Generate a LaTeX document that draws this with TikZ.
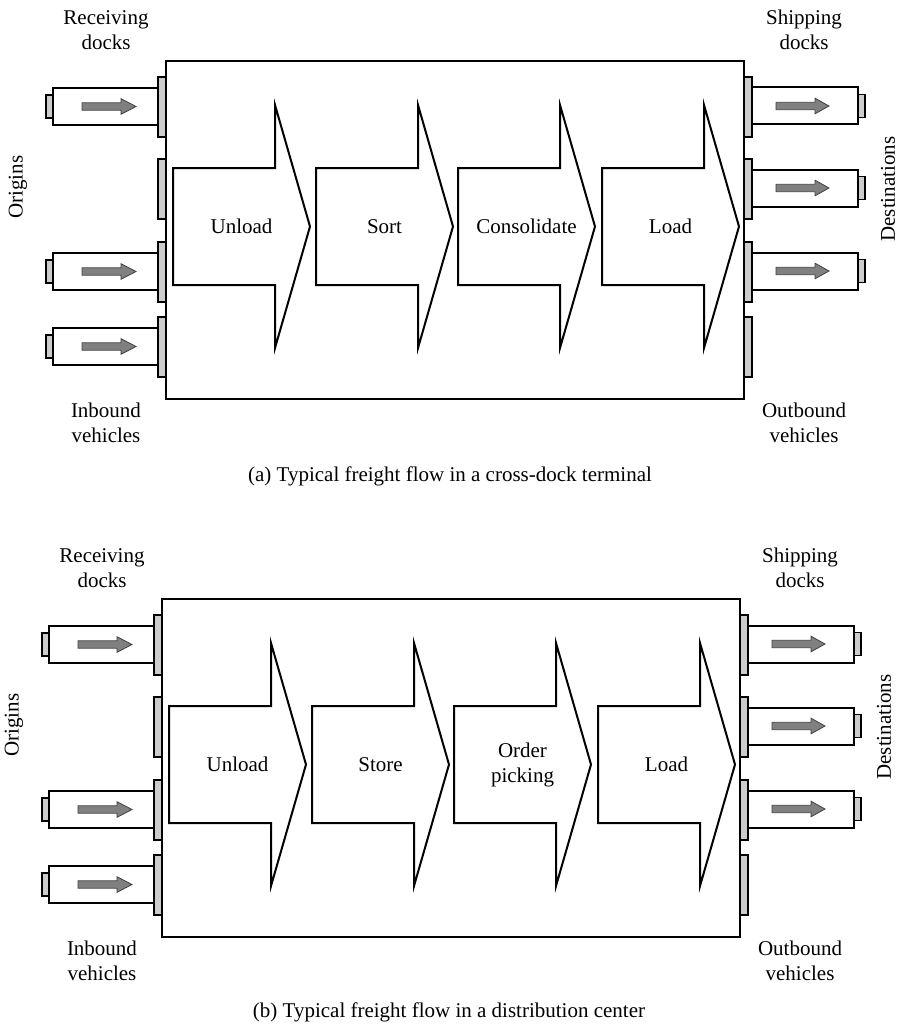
\documentclass[tikz,border=0pt]{standalone}
\usepackage{fontspec}
\setmainfont{Liberation Serif}
\definecolor{plategray}{HTML}{CCCCCC}
\definecolor{arrowgray}{HTML}{808080}
\definecolor{arrowedge}{HTML}{404040}
\newcommand\ldock[1]{\path[plate] (158,#1) rectangle (166,#1+60);}
\newcommand\rdock[1]{\path[plate] (744,#1) rectangle (752,#1+60);}
\newcommand\ltruck[1]{%
  \path[truckbody] (53,#1+11) rectangle (158,#1+48);
  \path[plate] (46,#1+18) rectangle (53,#1+41);
  \path[truckarrow] (82,#1+25.8) -- (121,#1+25.8) -- (121,#1+21.7) -- (136,#1+29.5)
     -- (121,#1+37.3) -- (121,#1+33.2) -- (82,#1+33.2) -- cycle;}
\newcommand\rtruck[1]{%
  \path[truckbody] (752,#1+10.5) rectangle (858,#1+47.5);
  \path[plate] (858,#1+17.5) rectangle (865,#1+40.5);
  \path[truckarrow] (776,#1+25.3) -- (815,#1+25.3) -- (815,#1+21.2) -- (829,#1+29)
     -- (815,#1+36.8) -- (815,#1+32.7) -- (776,#1+32.7) -- cycle;}
\newcommand\flowstep[3]{% name, left x, label
  \path[flowarrow] (#2,168) -- (#2+102,168) -- (#2+102,105) -- (#2+137,226.5)
     -- (#2+102,348) -- (#2+102,285) -- (#2,285) -- cycle;
  \node[lbl] (#1) at (#2+68.5,226.5) {#3};}
\newcommand\drawpanel[6]{% prefix, four step labels, unused
  \ldock{77}\ldock{159}\ldock{242}\ldock{317}
  \rdock{77}\rdock{159}\rdock{242}\rdock{317}
  \path[terminal] (166,61) rectangle (744,399);
  \ltruck{77}\ltruck{242}\ltruck{317}
  \rtruck{77}\rtruck{159}\rtruck{242}
  \flowstep{#1-s1}{173}{#2}
  \flowstep{#1-s2}{316}{#3}
  \flowstep{#1-s3}{458}{#4}
  \flowstep{#1-s4}{602}{#5}
  \node[lbl] (#1-recv) at (106,30) {Receiving\\docks};
  \node[lbl] (#1-ship) at (804,30) {Shipping\\docks};
  \node[lbl] (#1-inb) at (106,423) {Inbound\\vehicles};
  \node[lbl] (#1-outb) at (804,423) {Outbound\\vehicles};
  \node[lbl,rotate=90] (#1-orig) at (18,187) {Origins};
  \node[lbl,rotate=90] (#1-dest) at (888,189) {Destinations};
}
\begin{document}
\begin{tikzpicture}[x=1pt,y=-1pt,
  lbl/.style={font=\fontsize{21}{25}\selectfont, align=center, inner sep=0pt},
  plate/.style={draw=black, fill=plategray, line width=1.3pt},
  truckbody/.style={draw=black, fill=white, line width=2pt},
  flowarrow/.style={draw=black, fill=white, line width=2pt, line join=miter, miter limit=20},
  truckarrow/.style={draw=arrowedge, fill=arrowgray, line width=0.8pt},
  terminal/.style={draw=black, fill=white, line width=2.8pt}]
\useasboundingbox (0,0) rectangle (901,1030);
\begin{scope}
  \drawpanel{a}{Unload}{Sort}{Consolidate}{Load}{}
\end{scope}
\node[lbl] (capa) at (450,476) {(a) Typical freight flow in a cross-dock terminal};
\begin{scope}[shift={(-4,538)}]
  \drawpanel{b}{Unload}{Store}{Order\\picking}{Load}{}
\end{scope}
\node[lbl] (capb) at (449,1012) {(b) Typical freight flow in a distribution center};
\end{tikzpicture}
\end{document}
